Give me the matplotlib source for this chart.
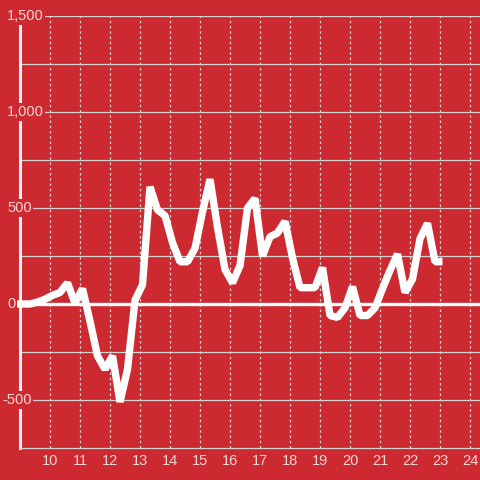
import matplotlib
matplotlib.use('Agg')
import matplotlib.pyplot as plt

plt.rcParams['font.family'] = ['Liberation Sans', 'DejaVu Sans']

bg = '#cc2a30'
grid_c = '#d2d2d2'
text_c = '#f5d6d6'

# time (hours) and value, one point every 15 minutes
start = 8.8333
values = [0, 0, 0, 10, 25, 45, 60, 110, 5, 80,
          -90, -270, -340, -270, -510, -340, 20, 100, 610, 490,
          460, 320, 220, 220, 290, 480, 650, 400, 180, 110,
          200, 500, 550, 250, 350, 370, 430, 240, 85, 85,
          85, 190, -60, -70, -20, 90, -60, -60, -20, 80,
          175, 260, 60, 130, 340, 420, 220, 220]
times = [start + 0.25 * i for i in range(len(values))]

xticks = list(range(10, 25))
yticks = [1500, 1000, 500, 0, -500]
ylabels = ['1,500', '1,000', '500', '0', '-500']
hgrid = [1500, 1250, 1000, 750, 500, 250, -250, -500]

fig = plt.figure(figsize=(4.8, 4.8), dpi=100, facecolor=bg)
ax = fig.add_axes([20/480, 32/480, 460/480, 432/480])
ax.set_facecolor(bg)
ax.set_xlim(9, 24.3333)
ax.set_ylim(-750, 1500)

for s in ['top', 'right']:
    ax.spines[s].set_visible(False)
ax.spines['left'].set_color('#f4f4f4')
ax.spines['left'].set_linewidth(2.2)
ax.spines['bottom'].set_color(grid_c)
ax.spines['bottom'].set_linewidth(0.9)
ax.tick_params(left=False, bottom=False, labelleft=False, labelbottom=False)

for y in hgrid:
    ax.axhline(y, color=grid_c, lw=0.9, zorder=1)
ax.axhline(0, color='white', lw=2.4, zorder=2)
for x in xticks:
    ax.axvline(x, color=grid_c, lw=0.9, ls=(0, (2, 2.2)), zorder=1)

ax.plot(times, values, color='white', lw=5.3, solid_joinstyle='bevel',
        solid_capstyle='butt', zorder=3, clip_on=False)

for y, lab in zip(yticks, ylabels):
    xpos = 8.567 if not lab.startswith('-') else 8.41
    ax.text(xpos, y, lab, ha='left', va='center', fontsize=10.5, color=text_c,
            zorder=5, clip_on=False,
            bbox=dict(facecolor=bg, edgecolor='none', pad=1.2))

for x in xticks:
    ax.text(x, -750 - 13 * 750 / 144, str(x), ha='center', va='center',
            fontsize=10.5, color=text_c, clip_on=False)

fig.savefig('out.png', dpi=100, facecolor=bg)
